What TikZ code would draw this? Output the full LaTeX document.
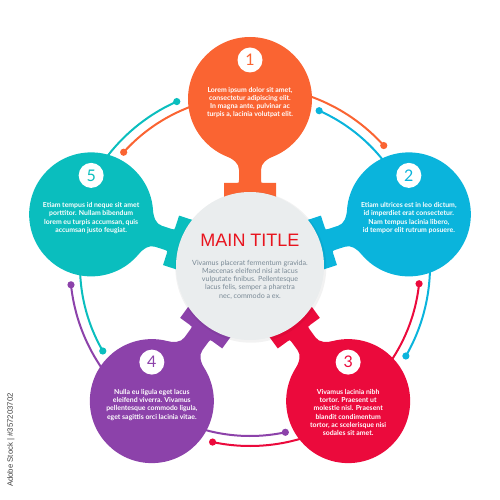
\documentclass[tikz,border=0pt]{standalone}
\usepackage{fontspec}
\setmainfont{Lato}
\newfontfamily\titlefont{Liberation Sans}
\definecolor{cA}{HTML}{FA6432}
\definecolor{cB}{HTML}{0AB4DC}
\definecolor{cC}{HTML}{EB0A3C}
\definecolor{cD}{HTML}{8C42AA}
\definecolor{cE}{HTML}{0ABEBE}
\definecolor{hub}{HTML}{EAEDEE}
\definecolor{hubtext}{HTML}{7A8A96}
\definecolor{titlered}{HTML}{E8141E}
\begin{document}
\begin{tikzpicture}[x=1pt,y=1pt,
  petal/.style={circle, minimum size=124pt, inner sep=0pt, fill=#1},
  numdisc/.style={circle, fill=white, minimum size=25pt, inner sep=0pt, text=#1, font=\fontsize{16}{16}\selectfont},
  bodytxt/.style={text=white, font=\bfseries\fontsize{6.9}{8.2}\selectfont, align=center, inner sep=0pt, anchor=north},
  hubtxt/.style={text=hubtext, font=\fontsize{7.1}{8.1}\selectfont, align=center, inner sep=0pt, anchor=north},
  link/.style={line width=2pt}]
\useasboundingbox (-250,-234) rectangle (250,266);
\coordinate (o) at (0,0);
% connector arcs
\foreach \a/\c/\d/\i in {90/cA/cB/1,18/cB/cC/2,-54/cC/cD/3,-126/cD/cE/4,162/cE/cA/5}{
  \pgfmathsetmacro{\ea}{\a-48}
  \pgfmathsetmacro{\sb}{\a-72}
  \pgfmathsetmacro{\eb}{\a-24}
  \coordinate (oa\i) at (\a:180);
  \coordinate (od\i) at (\ea:180);
  \coordinate (ib\i) at (\sb:170);
  \coordinate (id\i) at (\eb:170);
  \draw[link,\c] (oa\i) arc[start angle=\a, end angle=\ea, radius=180];
  \fill[\c] (od\i) circle (3.6);
  \draw[link,\d] (ib\i) arc[start angle=\sb, end angle=\eb, radius=170];
  \fill[\d] (id\i) circle (3.6);
}
% necks
\foreach \a/\c in {90/cA,18/cB,-54/cC,-126/cD,162/cE}{
  \begin{scope}[rotate=\a]
  \fill[\c] (60,-26) -- (83,-26) -- (83,-14) .. controls (83,-11) .. (86,-11)
    -- (96,-11) .. controls (103,-11) and (106,-16) .. (111,-25) -- (125,-25)
    -- (125,25) -- (111,25) .. controls (106,16) and (103,11) .. (96,11)
    -- (86,11) .. controls (83,11) .. (83,14) -- (83,26) -- (60,26) -- cycle;
  \end{scope}
}
% petals
\node[petal=cA] (p1) at (90:167) {};
\node[petal=cB] (p2) at (18:167) {};
\node[petal=cC] (p3) at (-54:167) {};
\node[petal=cD] (p4) at (-126:167) {};
\node[petal=cE] (p5) at (162:167) {};
% hub
\fill[black, opacity=0.05] (0.8,-1.2) circle (75.5);
\node[circle, fill=hub, minimum size=148pt, inner sep=0pt] (hub) at (o) {};
\node[anchor=base, text=titlered, font=\titlefont\fontsize{18}{18}\selectfont, inner sep=0pt] (title) at (0,19) {MAIN TITLE};
\node[hubtxt] (hubbody) at (0,5.8) {Vivamus placerat fermentum gravida.\\Maecenas eleifend nisi at lacus\\vulputate finibus. Pellentesque\\lacus felis, semper a pharetra\\nec, commodo a ex.};
% numbers
\node[numdisc=cA] (n1) at ([yshift=39pt]p1.center) {1};
\node[numdisc=cB] (n2) at ([yshift=39pt]p2.center) {2};
\node[numdisc=cC] (n3) at ([yshift=39pt]p3.center) {3};
\node[numdisc=cD] (n4) at ([yshift=39pt]p4.center) {4};
\node[numdisc=cE] (n5) at ([yshift=39pt]p5.center) {5};
% texts
\node[bodytxt] (t1) at ([yshift=12pt]p1.center) {Lorem ipsum dolor sit amet,\\consectetur adipiscing elit.\\In magna ante, pulvinar ac\\turpis a, lacinia volutpat elit.};
\node[bodytxt] (t2) at ([yshift=12pt]p2.center) {Etiam ultrices est in leo dictum,\\id imperdiet erat consectetur.\\Nam tempus lacinia libero,\\id tempor elit rutrum posuere.};
\node[bodytxt] (t3) at ([yshift=12pt]p3.center) {Vivamus lacinia nibh\\tortor. Praesent ut\\molestie nisl. Praesent\\blandit condimentum\\tortor, ac scelerisque nisi\\sodales sit amet.};
\node[bodytxt] (t4) at ([yshift=12pt]p4.center) {Nulla eu ligula eget lacus\\eleifend viverra. Vivamus\\pellentesque commodo ligula,\\eget sagittis orci lacinia vitae.};
\node[bodytxt] (t5) at ([yshift=12pt]p5.center) {Etiam tempus id neque sit amet\\porttitor. Nullam bibendum\\lorem eu turpis accumsan, quis\\accumsan justo feugiat.};
% credit
\node[rotate=90, text=black!75, font=\titlefont\fontsize{7.8}{8}\selectfont, inner sep=0pt] (credit) at (-239,-174) {Adobe Stock | \#357203702};
\end{tikzpicture}
\end{document}
